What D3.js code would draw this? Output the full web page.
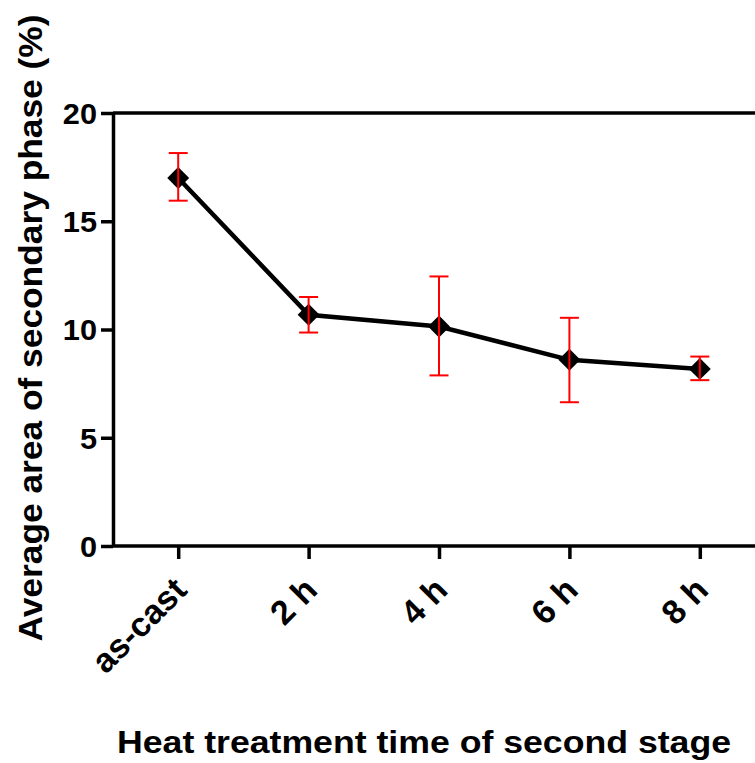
<!DOCTYPE html>
<html lang="en">
<head>
<meta charset="utf-8">
<style>
body { margin:0; background:white; }
text { font-family: Arial, "Liberation Sans", sans-serif; font-weight:bold; fill:#000; }
</style>
<script src="https://cdn.jsdelivr.net/npm/d3@7"></script>
</head>
<body>
<div id="chart"></div>
<script>

var categories = ["as-cast", "2 h", "4 h", "6 h", "8 h"]
var means = [17.0, 10.68, 10.14, 8.6, 8.18]
var upper = [18.15, 11.5, 12.45, 10.54, 8.75]
var lower = [15.95, 9.86, 7.88, 6.64, 7.66]
var yTicks = [0, 5, 10, 15, 20]

var width = 755
var height = 763

var svg = d3.select("#chart").append("svg")
    .attr("width", width)
    .attr("height", height);

var x = d3.scalePoint()
    .domain(categories)
    .range([113, 765])
    .padding(0.5);

var y = d3.scaleLinear()
    .domain([0, 20])
    .range([546, 113]);

// top frame line
svg.append("line")
    .attr("x1", 113).attr("x2", width)
    .attr("y1", y(20)).attr("y2", y(20))
    .attr("stroke", "#000").attr("stroke-width", 3.5);

// y axis
var gy = svg.append("g")
    .attr("transform", "translate(113,0)")
    .call(d3.axisLeft(y).tickValues(yTicks).tickSize(12).tickSizeOuter(0));
gy.select(".domain").attr("stroke-width", 3.5);
gy.selectAll(".tick line").attr("stroke-width", 3.5);
gy.selectAll(".tick text")
    .style("font-size", "29px")
    .style("font-family", "Arial, 'Liberation Sans', sans-serif")
    .style("font-weight", "bold")
    .attr("x", 0)
    .attr("dy", "0.36em")
    .attr("transform", "translate(-16,0) scale(1.06,1)");

// x axis
var gx = svg.append("g")
    .attr("transform", "translate(0,546)")
    .call(d3.axisBottom(x).tickSize(13).tickSizeOuter(0));
gx.select(".domain").attr("d", "M113,0H" + width).attr("stroke-width", 3.5);
gx.selectAll(".tick line").attr("stroke-width", 3.5);
gx.selectAll(".tick text")
    .style("font-size", "34px")
    .style("font-family", "Arial, 'Liberation Sans', sans-serif")
    .style("font-weight", "bold")
    .attr("text-anchor", "end")
    .attr("y", 0).attr("dy", 0)
    .attr("transform", "translate(10,46) rotate(-45)");

// connecting line
var line = d3.line()
    .x(function(d, i) { return x(categories[i]) })
    .y(function(d) { return y(d) });

svg.append("path")
    .datum(means)
    .attr("d", line)
    .attr("fill", "none")
    .attr("stroke", "#000")
    .attr("stroke-width", 4.5);

// markers
svg.selectAll(".marker")
    .data(means)
    .enter().append("path")
    .attr("class", "marker")
    .attr("d", d3.symbol(d3.symbolSquare, 240))
    .attr("transform", function(d, i) { return "translate(" + x(categories[i]) + "," + y(d) + ") rotate(45)" })
    .attr("fill", "#000");

// error bars
var eb = svg.selectAll(".err")
    .data(categories)
    .enter().append("g")
    .attr("class", "err")
    .attr("stroke", "#ff0000")
    .attr("stroke-width", 2);

eb.append("line")
    .attr("x1", function(d) { return x(d) }).attr("x2", function(d) { return x(d) })
    .attr("y1", function(d, i) { return y(upper[i]) })
    .attr("y2", function(d, i) { return y(lower[i]) });
eb.append("line")
    .attr("x1", function(d) { return x(d) - 9.5 }).attr("x2", function(d) { return x(d) + 9.5 })
    .attr("y1", function(d, i) { return y(upper[i]) })
    .attr("y2", function(d, i) { return y(upper[i]) });
eb.append("line")
    .attr("x1", function(d) { return x(d) - 9.5 }).attr("x2", function(d) { return x(d) + 9.5 })
    .attr("y1", function(d, i) { return y(lower[i]) })
    .attr("y2", function(d, i) { return y(lower[i]) });

// axis titles
svg.append("text")
    .attr("x", 424).attr("y", 753)
    .attr("text-anchor", "middle")
    .style("font-size", "32px")
    .attr("textLength", 614)
    .attr("lengthAdjust", "spacingAndGlyphs")
    .text("Heat treatment time of second stage");

svg.append("text")
    .attr("transform", "translate(42,328) rotate(-90)")
    .attr("text-anchor", "middle")
    .style("font-size", "34px")
    .attr("textLength", 627)
    .attr("lengthAdjust", "spacingAndGlyphs")
    .text("Average area of secondary phase (%)");

</script>
</body>
</html>
